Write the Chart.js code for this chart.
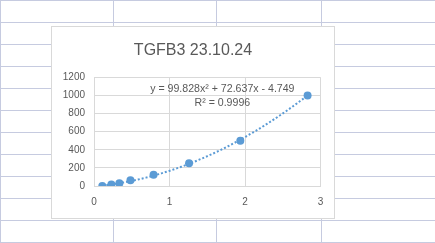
<!DOCTYPE html>
<html>
<head>
<meta charset="utf-8">
<script src="https://cdn.jsdelivr.net/npm/chart.js@4.4.1/dist/chart.umd.min.js"></script>
<style>
html, body { margin: 0; padding: 0; background: #fff; overflow: hidden; }
#wrap { width: 435px; height: 243px; position: relative; }
</style>
</head>
<body>
<div id="wrap"><canvas id="stdChart" width="435" height="243"></canvas></div>
<script>
// standard curve: absorbance (x) vs concentration (y)
const absorbances = [0.110, 0.230, 0.336, 0.483, 0.789, 1.259, 1.938, 2.829];
const concentrations = [0, 15.625, 31.25, 62.5, 125, 250, 500, 1000];
const xTicks = [0, 1, 2, 3];
const yTicks = [0, 200, 400, 600, 800, 1000, 1200];
const trendCoeffs = [99.828, 72.637, -4.749]; // a*x^2 + b*x + c
const trendLabel = ['y = 99.828x² + 72.637x - 4.749', 'R² = 0.9996'];
const chartTitle = 'TGFB3 23.10.24';

const blue = '#5b9bd5';
const textGrey = '#595959';
const gridGrey = '#d9d9d9';
const sheetLine = '#c6cbe0';
const fontFamily = '"Liberation Sans", Arial, sans-serif';

const points = absorbances.map((x, i) => ({ x: x, y: concentrations[i] }));

// polynomial trendline over the data range, from the displayed coefficients
const trendPoints = [];
const xMin = Math.min(...absorbances), xMax = Math.max(...absorbances);
for (let i = 0; i <= 80; i++) {
    const x = xMin + (xMax - xMin) * i / 80;
    trendPoints.push({ x: x, y: trendCoeffs[0] * x * x + trendCoeffs[1] * x + trendCoeffs[2] });
}

// spreadsheet cells behind the chart + the chart box
const sheetBackground = {
    id: 'sheetBackground',
    beforeDraw(chart) {
        const ctx = chart.ctx;
        ctx.save();
        ctx.fillStyle = '#fff';
        ctx.fillRect(0, 0, 435, 243);
        ctx.strokeStyle = sheetLine;
        ctx.lineWidth = 1;
        ctx.beginPath();
        [0.5, 113.5, 216.5, 321.5].forEach(x => { ctx.moveTo(x, 0); ctx.lineTo(x, 243); });
        for (let y = 0.5; y < 243; y += 22) { ctx.moveTo(0, y); ctx.lineTo(435, y); }
        ctx.stroke();
        ctx.fillStyle = '#fff';
        ctx.fillRect(51.5, 26.5, 283, 192);
        ctx.strokeStyle = gridGrey;
        ctx.strokeRect(51.5, 26.5, 283, 192);
        ctx.restore();
    }
};

const equationLabel = {
    id: 'equationLabel',
    afterDatasetsDraw(chart) {
        const ctx = chart.ctx;
        const xs = chart.scales.x, ys = chart.scales.y;
        const cx = xs.getPixelForValue(1.7);
        const cy = ys.getPixelForValue(1070);
        ctx.save();
        ctx.fillStyle = textGrey;
        ctx.font = '10.6px ' + fontFamily;
        ctx.textAlign = 'center';
        ctx.textBaseline = 'middle';
        ctx.fillText(trendLabel[0], cx, cy);
        ctx.fillText(trendLabel[1], cx, cy + 14);
        ctx.restore();
    }
};

const ctx = document.getElementById('stdChart').getContext('2d');
new Chart(ctx, {
    type: 'scatter',
    data: {
        datasets: [{
            label: 'Standards',
            data: points,
            backgroundColor: blue,
            borderColor: blue,
            pointRadius: 4,
            pointHoverRadius: 4,
            borderWidth: 0,
            order: 1
        }, {
            type: 'line',
            label: 'Poly. (Standards)',
            data: trendPoints,
            borderColor: blue,
            borderWidth: 2,
            borderDash: [2, 2],
            pointRadius: 0,
            fill: false,
            tension: 0,
            order: 2
        }]
    },
    options: {
        responsive: false,
        animation: false,
        events: [],
        layout: {
            padding: { left: 52, right: 101, top: 27, bottom: 24.5 }
        },
        scales: {
            x: {
                type: 'linear',
                min: xTicks[0],
                max: xTicks[xTicks.length - 1],
                afterBuildTicks: scale => { scale.ticks = xTicks.map(v => ({ value: v })); },
                afterFit: scale => { scale.height = 32.5; },
                grid: { color: gridGrey, lineWidth: 1, drawTicks: false },
                border: { color: gridGrey },
                ticks: { color: textGrey, font: { family: fontFamily, size: 10 }, padding: 10, maxRotation: 0,
                         callback: v => String(v) }
            },
            y: {
                type: 'linear',
                min: yTicks[0],
                max: yTicks[yTicks.length - 1],
                afterBuildTicks: scale => { scale.ticks = yTicks.map(v => ({ value: v })); },
                afterFit: scale => { scale.width = 42; },
                grid: { color: gridGrey, lineWidth: 1, drawTicks: false },
                border: { color: gridGrey },
                ticks: { color: textGrey, font: { family: fontFamily, size: 10 }, padding: 9,
                         callback: v => String(v) }
            },
            // empty spacer on the right so the plot stops short of the box edge
            spacer: {
                type: 'linear',
                position: 'right',
                display: true,
                grid: { display: false },
                border: { display: false },
                ticks: { display: false },
                afterFit: scale => { scale.width = 13.5; }
            }
        },
        plugins: {
            legend: { display: false },
            tooltip: { enabled: false },
            title: {
                display: true,
                text: chartTitle,
                color: textGrey,
                font: { family: fontFamily, size: 16, weight: 'normal' },
                padding: { top: 14, bottom: 17.1 }
            }
        }
    },
    plugins: [sheetBackground, equationLabel]
});
</script>
</body>
</html>
